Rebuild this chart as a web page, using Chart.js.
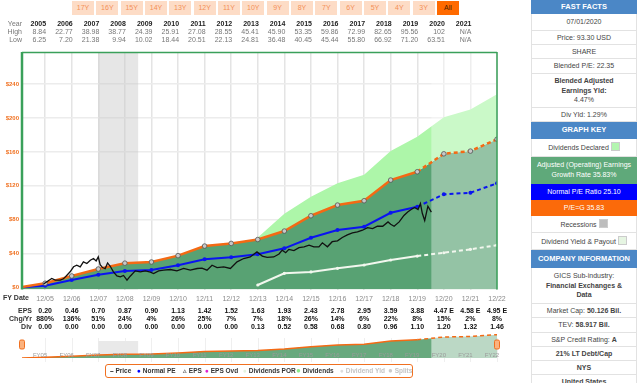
<!DOCTYPE html>
<html>
<head>
<meta charset="utf-8">
<title>ICE FAST Graph</title>
<script src="https://cdn.jsdelivr.net/npm/chart.js@4.4.1/dist/chart.umd.min.js"></script>
<style>
  body { margin: 0; width: 640px; height: 383px; overflow: hidden; background: #fff; position: relative; font-family: 'Liberation Sans', Arial, sans-serif; }
  canvas { position: absolute; left: 0; }
  #main { top: 0; }
  #nav { top: 328px; }
  .btns { position: absolute; left: 72px; top: 1px; display: flex; }
  .btns span { width: 22px; height: 14px; margin-right: 2.33px; background: #fddcc6; color: #f39058; font-size: 7px; line-height: 14px; text-align: center; }
  .btns span.on { background: #ff6a00; color: #4a1e00; }
  .legend { position: absolute; left: 105px; top: 364px; width: 308px; height: 14px; box-sizing: border-box; border: 1.5px solid #f07020; border-radius: 3px; font-size: 6.5px; font-weight: bold; color: #333; }
  .legend span { position: absolute; top: 2px; line-height: 8px; white-space: nowrap; }
  .legend i { font-style: normal; }
  .side .r { position: absolute; left: 531px; width: 106px; box-sizing: border-box; border: 1px solid #e2e2e2; border-top: none; display: flex; flex-direction: column; align-items: center; justify-content: center; text-align: center; font-size: 7px; color: #444; line-height: 9.6px; }
  .side .h { background: #4b87c6; color: #fff; font-weight: bold; font-size: 7.5px; border-color: #4b87c6; }
  .sw { display: inline-block; width: 7px; height: 7px; vertical-align: -1px; margin-left: 2px; border: 1px solid #ccc; }
</style>
</head>
<body>
<div class="btns" id="btns"></div>
<canvas id="main" width="512" height="383"></canvas>
<canvas id="nav" width="512" height="34"></canvas>

<div class="legend">
  <span style="left:4px"><i style="color:#000">&#8211;</i> Price</span>
  <span style="left:31px"><i style="color:#0000ff">&#9679;</i> Normal PE</span>
  <span style="left:77px"><i style="color:#777">&#9653;</i> EPS</span>
  <span style="left:99px"><i style="color:#e020d0">&#9679;</i> EPS Ovd</span>
  <span style="left:137px"><i style="color:#e2f3de">&#9679;</i> Dividends POR</span>
  <span style="left:190px"><i style="color:#8ee88a;font-size:8px">&#9679;</i> Dividends</span>
  <span style="left:234px;color:#c4c4c4"><i style="color:#ddd">&#9679;</i> Dividend Yld</span>
  <span style="left:282px;color:#c4c4c4"><i style="color:#ccc;font-size:8px">&#9679;</i> Splits</span>
</div>

<div class="side">
  <div class="r h" style="top:0;height:14px">FAST FACTS</div>
  <div class="r" style="top:14px;height:17px">07/01/2020</div>
  <div class="r" style="top:31px;height:14px">Price: 93.30 USD</div>
  <div class="r" style="top:45px;height:14px">SHARE</div>
  <div class="r" style="top:59px;height:15px">Blended P/E: 22.35</div>
  <div class="r" style="top:74px;height:34px"><b>Blended Adjusted</b><b>Earnings Yld:</b><span>4.47%</span></div>
  <div class="r" style="top:108px;height:14px">Div Yld: 1.29%</div>
  <div class="r h" style="top:122px;height:17px">GRAPH KEY</div>
  <div class="r" style="top:139px;height:18px"><span>Dividends Declared<i class="sw" style="background:#b4f5b0"></i></span></div>
  <div class="r" style="top:157px;height:27px;background:#5fa97a;color:#fff;border-color:#5fa97a"><span>Adjusted (Operating) Earnings</span><span>Growth Rate 35.83%</span></div>
  <div class="r" style="top:184px;height:16px;background:#0000ff;color:#fff;border-color:#0000ff">Normal P/E Ratio 25.10</div>
  <div class="r" style="top:200px;height:16px;background:#fb6a0a;color:#fff;border-color:#fb6a0a">P/E=G 35.83</div>
  <div class="r" style="top:216px;height:17px"><span>Recessions<i class="sw" style="background:#bdbdbd"></i></span></div>
  <div class="r" style="top:233px;height:17px"><span>Dividend Yield &amp; Payout<i class="sw" style="background:#e6f5e2"></i></span></div>
  <div class="r h" style="top:250px;height:18px">COMPANY INFORMATION</div>
  <div class="r" style="top:268px;height:36px"><span>GICS Sub-industry:</span><b>Financial Exchanges &amp;</b><b>Data</b></div>
  <div class="r" style="top:304px;height:14px"><span>Market Cap: <b>50.126 Bil.</b></span></div>
  <div class="r" style="top:318px;height:15px"><span>TEV: <b>58.917 Bil.</b></span></div>
  <div class="r" style="top:333px;height:14px"><span>S&amp;P Credit Rating: <b>A</b></span></div>
  <div class="r" style="top:347px;height:14px"><b>21% LT Debt/Cap</b></div>
  <div class="r" style="top:361px;height:14px"><b>NYS</b></div>
  <div class="r" style="top:375px;height:15px"><b>United States</b></div>
</div>

<script>
// range buttons
const rangeButtons = ['17Y', '16Y', '15Y', '14Y', '13Y', '12Y', '11Y', '10Y', '9Y', '8Y', '7Y', '6Y', '5Y', '4Y', '3Y', 'All'];

// fiscal years (12/YY), 2004 is the start of the graph
const fyYears = [2004, 2005, 2006, 2007, 2008, 2009, 2010, 2011, 2012, 2013, 2014, 2015, 2016, 2017, 2018, 2019, 2020, 2021, 2022];

// orange line (EPS x P/E=G), blue normal PE line, white dividend line, top of the dividends area
const epsValue = [0, 5, 13.6, 21.8, 28.7, 30.1, 37.6, 48.9, 52, 56.6, 66.6, 84.7, 97.3, 102.4, 126.8, 136.6, 157.8, 161, 175];
const normalPE = [0, 2.1, 8.8, 15.1, 19.5, 20.6, 26.2, 33.2, 35.6, 39.1, 46.2, 58.7, 67.8, 71.7, 88.2, 95.3, 110, 111.8, 123];
const divPOR = [null, null, null, null, null, null, null, null, null, 2.9, 16.7, 18.3, 22.6, 26.5, 32.4, 37.1, 41, 45, 50];
const divTop = [null, null, null, null, null, null, null, null, null, 59, 87, 107, 123, 133, 161, 178, 201, 210, 228];

// monthly-ish closing price
const priceX = [2004.94, 2005.12, 2005.25, 2005.38, 2005.57, 2005.69, 2005.82, 2005.94, 2006.07, 2006.19, 2006.32, 2006.44, 2006.57, 2006.7, 2006.82, 2006.92,
  2007.0, 2007.07, 2007.16, 2007.26, 2007.35, 2007.45, 2007.57, 2007.7, 2007.83, 2007.95, 2008.08, 2008.2, 2008.39, 2008.58, 2008.77, 2008.96,
  2009.08, 2009.27, 2009.46, 2009.71, 2009.96, 2010.21, 2010.46, 2010.72, 2010.9, 2011.09, 2011.28, 2011.47, 2011.72, 2011.97, 2012.22, 2012.47,
  2012.72, 2012.85, 2012.97, 2013.17, 2013.35, 2013.6, 2013.8, 2013.92, 2014.05, 2014.17, 2014.36, 2014.55, 2014.74, 2014.93, 2015.11, 2015.3,
  2015.43, 2015.62, 2015.8, 2016.0, 2016.18, 2016.37, 2016.56, 2016.75, 2016.94, 2017.13, 2017.32, 2017.5, 2017.7, 2017.9, 2018.0, 2018.13,
  2018.32, 2018.5, 2018.64, 2018.77, 2018.9, 2019.03, 2019.12, 2019.19, 2019.28, 2019.4, 2019.53];
const priceY = [4.1, 7.9, 10.6, 8.6, 8.6, 10.2, 14.5, 18.5, 24.4, 26.4, 24.4, 30.3, 28.3, 32.2, 34.2, 31.4,
  36.1, 27, 23.5, 22.3, 29, 25, 18.5, 13.7, 12.6, 14.2, 8.6, 13.3, 19.6, 18.5, 19.6, 18.1,
  16.5, 19.6, 20.4, 21.2, 19.6, 22.4, 20.4, 22.4, 22.8, 20.4, 26.3, 23.5, 24.4, 22.4, 30.3, 34.2,
  36.1, 39.3, 42, 37, 35.5, 36, 39.5, 44, 41, 45, 43.5, 47, 48, 50, 48, 48,
  52.7, 48, 54, 55, 59, 62, 64.4, 65.6, 67.6, 70.7, 69.6, 72.3, 72.3, 77.4, 74.7, 72.3,
  77.4, 85, 89, 92, 94.5, 92, 99, 87.6, 79, 96, 89];

// table above the graph
const tableYears = [2005, 2006, 2007, 2008, 2009, 2010, 2011, 2012, 2013, 2014, 2015, 2016, 2017, 2018, 2019, 2020, 2021];
const yearHigh = ['8.84', '22.77', '38.98', '38.77', '24.39', '25.91', '27.08', '28.55', '45.41', '45.90', '53.35', '59.86', '72.99', '82.65', '95.56', '102', 'N/A'];
const yearLow = ['6.25', '7.20', '21.38', '9.94', '10.02', '18.44', '20.51', '22.13', '24.81', '36.48', '40.45', '45.44', '55.80', '66.92', '71.20', '63.51', 'N/A'];

// table below the graph (12/05 .. 12/22)
const epsLabels = ['0.20', '0.46', '0.70', '0.87', '0.90', '1.13', '1.42', '1.52', '1.63', '1.93', '2.43', '2.78', '2.95', '3.59', '3.88', '4.47 E', '4.58 E', '4.95 E'];
const chgYr = ['880%', '136%', '51%', '24%', '4%', '26%', '25%', '7%', '7%', '18%', '26%', '14%', '6%', '22%', '8%', '15%', '2%', '8%'];
const divLabels = ['0.00', '0.00', '0.00', '0.00', '0.00', '0.00', '0.00', '0.00', '0.13', '0.52', '0.58', '0.68', '0.80', '0.96', '1.10', '1.20', '1.32', '1.46'];

const yTicks = [0, 40, 80, 120, 160, 200, 240];
const recession = [2007.0, 2008.5];
const forecastStart = 2019.53;
const xMin = 2004.13, xMax = 2022;

document.getElementById('btns').innerHTML = rangeButtons.map(b => '<span class="' + (b === 'All' ? 'on' : '') + '">' + b + '</span>').join('');

const FONT = '"Liberation Sans", Arial, sans-serif';
const dashAfter = i => ctx => ctx.p0DataIndex >= i ? [4, 3] : undefined;
const pts = arr => fyYears.map((x, i) => ({ x: x, y: arr[i] }));

const fastPlugin = {
  id: 'fast',
  beforeDatasetsDraw(chart) {
    const { ctx, chartArea: a, scales: { x } } = chart;
    ctx.save();
    ctx.fillStyle = 'rgba(200,200,200,0.45)';
    ctx.fillRect(x.getPixelForValue(recession[0]), a.top, x.getPixelForValue(recession[1]) - x.getPixelForValue(recession[0]), a.bottom - a.top);
    ctx.restore();
  },
  afterDatasetDraw(chart, args) {
    if (args.index !== 1) return;
    const { ctx, chartArea: a, scales: { x } } = chart;
    const x0 = x.getPixelForValue(forecastStart);
    ctx.save();
    ctx.fillStyle = 'rgba(255,255,255,0.36)';
    ctx.fillRect(x0, a.top, a.right - x0, a.bottom - a.top);
    ctx.restore();
  },
  afterDraw(chart) {
    const { ctx, chartArea: a, scales: { x } } = chart;
    ctx.save();
    // frame
    ctx.strokeStyle = '#3aa05a';
    ctx.lineWidth = 1.5;
    ctx.beginPath();
    ctx.moveTo(a.left, a.top + 0.5); ctx.lineTo(a.right, a.top + 0.5);
    ctx.moveTo(a.right, a.top); ctx.lineTo(a.right, a.bottom);
    ctx.stroke();
    ctx.lineWidth = 2.5;
    ctx.beginPath();
    ctx.moveTo(a.left, a.top); ctx.lineTo(a.left, a.bottom);
    ctx.stroke();

    ctx.textBaseline = 'middle';
    // year / high / low
    ctx.textAlign = 'right';
    ctx.font = '7px ' + FONT;
    ctx.fillStyle = '#777';
    ctx.fillText('Year', 22, 24);
    ctx.fillText('High', 22, 32);
    ctx.fillText('Low', 22, 40);
    tableYears.forEach((yr, i) => {
      const px = x.getPixelForValue(yr) + 1;
      ctx.font = 'bold 7px ' + FONT;
      ctx.fillStyle = '#222';
      ctx.fillText(String(yr), px, 24);
      ctx.font = '7px ' + FONT;
      ctx.fillStyle = '#777';
      ctx.fillText(yearHigh[i], px, 32);
      ctx.fillText(yearLow[i], px, 40);
    });

    // FY rows
    ctx.font = 'bold 7px ' + FONT;
    ctx.fillStyle = '#333';
    ctx.fillText('FY Date', 29, 298);
    ctx.fillText('EPS', 32, 311);
    ctx.fillText('Chg/Yr', 32, 319);
    ctx.fillText('Div', 32, 327);
    ctx.textAlign = 'center';
    ctx.fillStyle = '#111';
    fyYears.slice(1).forEach((yr, i) => {
      const px = x.getPixelForValue(yr);
      ctx.fillText(epsLabels[i], px, 311);
      ctx.fillText(chgYr[i], px, 319);
      ctx.fillText(divLabels[i], px, 327);
    });
    ctx.restore();
  }
};

new Chart(document.getElementById('main'), {
  type: 'line',
  data: {
    datasets: [
      { label: 'EPS area', data: pts(epsValue), order: 10, fill: 'start', backgroundColor: '#58a273', borderWidth: 0, pointRadius: 0 },
      { label: 'Dividends', data: pts(divTop), order: 9, fill: 0, backgroundColor: '#adf6a9', borderWidth: 0, pointRadius: 0 },
      { label: 'Dividends POR', data: pts(divPOR), order: 4, borderColor: '#f2f7ee', borderWidth: 2, pointRadius: 1.6, pointBackgroundColor: '#f2f7ee', pointBorderWidth: 0,
        segment: { borderDash: dashAfter(15) } },
      { label: 'Normal PE', data: pts(normalPE), order: 3, borderColor: '#0a14f0', borderWidth: 2, pointRadius: 2, pointBackgroundColor: '#0a14f0', pointBorderWidth: 0,
        segment: { borderDash: dashAfter(15) } },
      { label: 'EPS', data: pts(epsValue), order: 2, borderColor: '#f46a14', borderWidth: 2.5, pointRadius: 2.3, pointBackgroundColor: '#c8c8c8', pointBorderColor: '#555', pointBorderWidth: 0.8,
        segment: { borderDash: dashAfter(15) } },
      { label: 'Price', data: priceX.map((x, i) => ({ x: x, y: priceY[i] })), order: 1, borderColor: '#111', borderWidth: 1.3, pointRadius: 0, tension: 0 }
    ]
  },
  options: {
    responsive: false,
    animation: false,
    layout: { padding: { left: 0, right: 15, top: 52, bottom: 73.5 } },
    plugins: { legend: { display: false }, tooltip: { enabled: false } },
    scales: {
      x: {
        type: 'linear', min: xMin, max: xMax,
        afterBuildTicks: s => { s.ticks = fyYears.slice(1).map(v => ({ value: v })); },
        afterFit: s => { s.height = 20; },
        grid: { color: '#e4e4e4', lineWidth: 1.5, drawTicks: false },
        border: { display: false },
        ticks: { padding: 5, color: '#8a8a8a', autoSkip: false, maxRotation: 0, font: { size: 7, family: FONT },
          callback: v => '12/' + String(v).slice(2) }
      },
      y: {
        min: -2.4, max: 278,
        afterBuildTicks: s => { s.ticks = yTicks.map(v => ({ value: v })); },
        afterFit: s => { s.width = 22; },
        grid: { color: '#ececec', lineWidth: 1.5, drawTicks: false },
        border: { display: false },
        ticks: { padding: 3, color: '#f07020', font: { size: 6, weight: 'bold', family: FONT }, callback: v => '$' + v }
      }
    }
  },
  plugins: [fastPlugin]
});

// navigator under the table
const navPlugin = {
  id: 'nav',
  beforeDatasetsDraw(chart) {
    const { ctx, chartArea: a, scales: { x } } = chart;
    ctx.save();
    ctx.strokeStyle = '#efefef';
    ctx.lineWidth = 1;
    fyYears.slice(1).forEach(yr => {
      const px = Math.round(x.getPixelForValue(yr)) + 0.5;
      ctx.beginPath(); ctx.moveTo(px, a.top + 4); ctx.lineTo(px, a.bottom + 4); ctx.stroke();
    });
    ctx.fillStyle = '#e9e9e9';
    ctx.fillRect(x.getPixelForValue(recession[0]), a.top + 7, x.getPixelForValue(recession[1]) - x.getPixelForValue(recession[0]), a.bottom - a.top - 7);
    ctx.restore();
  },
  afterDatasetDraw(chart, args) {
    if (args.index !== 0) return;
    const { ctx, chartArea: a, scales: { x } } = chart;
    const x0 = x.getPixelForValue(forecastStart);
    ctx.save();
    ctx.fillStyle = 'rgba(255,255,255,0.55)';
    ctx.fillRect(x0, a.top, a.right - x0, a.bottom - a.top);
    ctx.restore();
  },
  afterDraw(chart) {
    const { ctx, chartArea: a, scales: { x } } = chart;
    ctx.save();
    ctx.font = '6px ' + FONT;
    ctx.fillStyle = '#9a9a9a';
    ctx.textAlign = 'center';
    ctx.textBaseline = 'middle';
    fyYears.slice(1).forEach(yr => {
      ctx.fillText('FY' + String(yr).slice(2), x.getPixelForValue(yr) - 5, a.bottom - 3);
    });
    ctx.fillStyle = '#fbb27e';
    ctx.strokeStyle = '#f07020';
    ctx.lineWidth = 1;
    [a.left, a.right].forEach(px => {
      ctx.beginPath();
      ctx.roundRect(px - 2.5, a.top + 6, 5, 9, 1.5);
      ctx.fill(); ctx.stroke();
    });
    ctx.restore();
  }
};

new Chart(document.getElementById('nav'), {
  type: 'line',
  data: {
    datasets: [
      { data: pts(epsValue), order: 2, fill: 'origin', backgroundColor: '#68a97e', borderWidth: 0, pointRadius: 0 },
      { data: pts(epsValue), order: 1, borderColor: '#f46a14', borderWidth: 1.5, pointRadius: 0, segment: { borderDash: dashAfter(15) } }
    ]
  },
  options: {
    responsive: false,
    animation: false,
    layout: { padding: { left: 22, right: 15, top: 6, bottom: 4 } },
    plugins: { legend: { display: false }, tooltip: { enabled: false } },
    scales: {
      x: { type: 'linear', min: xMin, max: xMax, display: false },
      y: { min: 0, max: 180, display: false }
    }
  },
  plugins: [navPlugin]
});
</script>
</body>
</html>
